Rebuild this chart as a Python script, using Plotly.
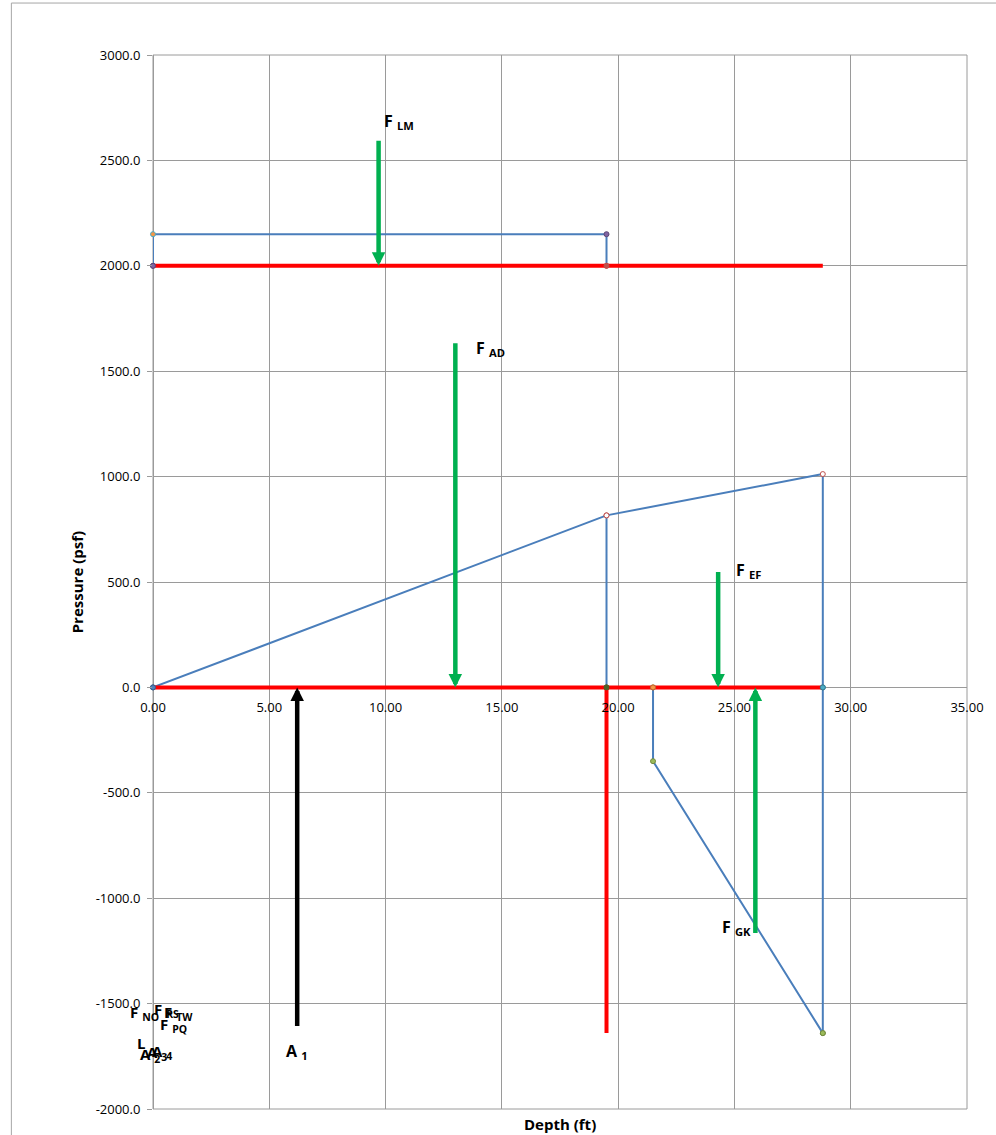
import plotly.graph_objects as go

# ---------------- data ----------------
rect_x = [0.0, 0.0, 19.5, 19.5]
rect_y = [2000, 2150, 2150, 2000]

tri_x = [0.0, 19.5, 19.5]
tri_y = [0, 816, 0]

trap_x = [19.5, 28.8, 28.8, 28.8]
trap_y = [816, 1012, 0, -1640]

neg_x = [28.8, 21.5, 21.5]
neg_y = [-1640, -350, 0]

red_top_x = [0.0, 28.8]
red_top_y = [2000, 2000]
red_mid_x = [0.0, 28.8]
red_mid_y = [0, 0]
red_vert_x = [19.5, 19.5]
red_vert_y = [0, -1640]

arrow_names = ["F <sub>LM</sub>", "F <sub>AD</sub>", "F <sub>EF</sub>", "F <sub>GK</sub>", "A <sub>1</sub>"]
arrow_x = [9.7, 13.0, 24.3, 25.9, 6.2]
arrow_tail = [2600, 1640, 555, -1172, -1613]
arrow_head = [2000, 0, 0, 0, 0]
label_x = [9.85, 13.8, 25.0, 24.4, 5.65]
label_y = [2685, 1608, 555, -1138, -1727]

# labels of the zero-length forces, all anchored at depth 0
cluster_names = ["F <sub>NO</sub>", "F <sub>RS</sub>", "F <sub>TW</sub>", "F <sub>PQ</sub>", "L",
                 "A <sub>2</sub>", "A <sub>3</sub>", "A <sub>4</sub>"]
cluster_x = [0.0, 0.0, 0.0, 0.0, 0.0, 0.0, 0.0, 0.0]
cluster_y = [-1545, -1530, -1545, -1600, -1685, -1742, -1735, -1730]

x_ticks = [0, 5, 10, 15, 20, 25, 30, 35]
y_ticks = [-2000, -1500, -1000, -500, 0, 500, 1000, 1500, 2000, 2500, 3000]

# ---------------- styles ----------------
BLUE = "#4a7ebb"
RED = "#ff0000"
GREEN = "#00b050"
GRID = "#9a9a9a"
FONT = "Open Sans"
cluster_shift = [-25, -1, 9, 5, -18, -15, -8, -3]

fig = go.Figure()

def blue_trace(xs, ys, mcolors, mline):
    fig.add_trace(go.Scatter(
        x=xs, y=ys, mode="lines+markers", cliponaxis=False,
        line=dict(color=BLUE, width=2),
        marker=dict(size=5, color=mcolors, line=dict(color=mline, width=1)),
        showlegend=False, hoverinfo="skip"))

def red_trace(xs, ys):
    fig.add_trace(go.Scatter(
        x=xs, y=ys, mode="lines", line=dict(color=RED, width=4), cliponaxis=False,
        showlegend=False, hoverinfo="skip"))

blue_trace(tri_x, tri_y, ["#4f81bd", "#ffffff", "#4f6228"], ["#385d8a", "#c0504d", "#4f6228"])
blue_trace(trap_x, trap_y, ["#ffffff", "#ffffff", "#4bacc6", "#9bbb59"], ["#c0504d", "#c0504d", "#357d91", "#71893f"])
blue_trace(neg_x, neg_y, ["#9bbb59", "#9bbb59", "#f79646"], ["#71893f", "#71893f", "#b66d31"])
blue_trace(rect_x, rect_y, ["#8064a2", "#f79646", "#8064a2", "#8064a2"], ["#5c4776", "#4bacc6", "#5c4776", "#c0504d"])
red_trace(red_top_x, red_top_y)
red_trace(red_mid_x, red_mid_y)
red_trace(red_vert_x, red_vert_y)

# marker overlays on red lines (drawn after red)
fig.add_trace(go.Scatter(
    x=[rect_x[0], rect_x[3], tri_x[2], trap_x[2], neg_x[2], tri_x[0]],
    y=[rect_y[0], rect_y[3], tri_y[2], trap_y[2], neg_y[2], tri_y[0]],
    mode="markers", cliponaxis=False,
    marker=dict(size=5, color=["#8064a2", "#c0504d", "#4f6228", "#4bacc6", "#f79646", "#4f81bd"],
                line=dict(color=["#5c4776", "#c0504d", "#4f6228", "#357d91", "#b66d31", "#385d8a"], width=1)),
    showlegend=False, hoverinfo="skip"))

annotations = []
for i, name in enumerate(arrow_names):
    col = "#000000" if name.startswith("A") else GREEN
    annotations.append(dict(
        x=arrow_x[i], y=arrow_head[i], ax=arrow_x[i], ay=arrow_tail[i],
        xref="x", yref="y", axref="x", ayref="y",
        text="", showarrow=True, arrowhead=2, arrowsize=0.6,
        arrowwidth=4.5, arrowcolor=col, standoff=0))
    annotations.append(dict(
        x=label_x[i], y=label_y[i], xref="x", yref="y",
        text="<b>" + name + "</b>", showarrow=False,
        xanchor="left", yanchor="middle",
        font=dict(family=FONT, size=16, color="#000000")))

for i, name in enumerate(cluster_names):
    annotations.append(dict(
        x=cluster_x[i], y=cluster_y[i], xref="x", yref="y", xshift=cluster_shift[i],
        text="<b>" + name + "</b>", showarrow=False,
        xanchor="left", yanchor="middle",
        font=dict(family=FONT, size=15, color="#000000")))

annotations.append(dict(
    x=0.5, y=-0.014, xref="paper", yref="paper", text="<b>Depth (ft)</b>",
    showarrow=False, xanchor="center", yanchor="middle",
    font=dict(family=FONT, size=15, color="#000000")))
annotations.append(dict(
    x=-0.093, y=0.5, xref="paper", yref="paper", text="<b>Pressure (psf)</b>",
    showarrow=False, xanchor="center", yanchor="middle", textangle=-90,
    font=dict(family=FONT, size=15, color="#000000")))

shapes = [
    dict(type="rect", xref="paper", yref="paper", x0=0, x1=1, y0=0, y1=1,
         line=dict(color=GRID, width=1), layer="below"),
    dict(type="rect", xref="paper", yref="paper", x0=-0.174, x1=1.2, y0=-0.2, y1=1.0493,
         line=dict(color="#a6a6a6", width=1), layer="below"),
]

fig.update_layout(
    width=996, height=1135,
    margin=dict(l=153, r=27, t=55, b=26),
    paper_bgcolor="white", plot_bgcolor="white",
    annotations=annotations, shapes=shapes,
    font=dict(family=FONT, size=13, color="#000000"),
    xaxis=dict(
        range=[0, 35], tickvals=x_ticks, ticktext=[f"{v:.2f}" for v in x_ticks],
        showgrid=True, gridcolor=GRID, gridwidth=1,
        zeroline=True, zerolinecolor=GRID, zerolinewidth=1,
        showline=False, anchor="free", position=0.4,
        ticks="", ticklabelstandoff=11,
        tickfont=dict(family=FONT, size=13, color="#000000")),
    yaxis=dict(
        range=[-2000, 3000], tickvals=y_ticks, ticktext=[f"{v:.1f}" for v in y_ticks],
        showgrid=True, gridcolor=GRID, gridwidth=1,
        zeroline=True, zerolinecolor=GRID, zerolinewidth=1,
        showline=False, ticks="outside", ticklen=5, tickcolor=GRID,
        ticklabelstandoff=4,
        tickfont=dict(family=FONT, size=13, color="#000000")),
)

fig.write_html("out.html", config={"displayModeBar": False},
               post_script="document.body.style.margin='0px';document.body.style.overflow='hidden';")
